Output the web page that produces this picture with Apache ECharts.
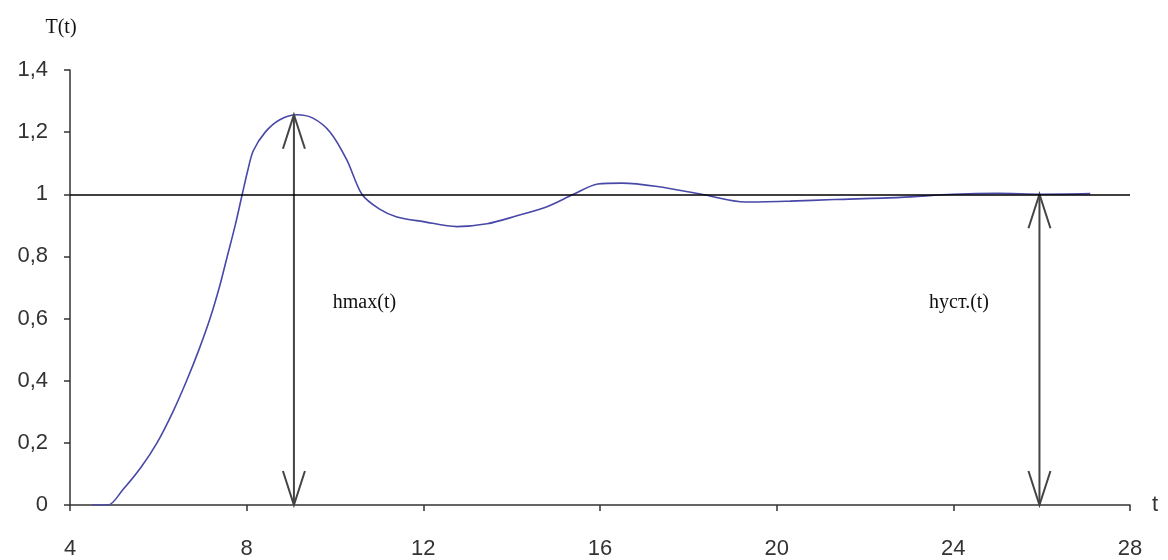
<!DOCTYPE html>
<html>
<head>
<meta charset="utf-8">
<script src="https://cdn.jsdelivr.net/npm/echarts@6/dist/echarts.min.js"></script>
<style>html,body{margin:0;padding:0;background:#fff}#c{width:1168px;height:560px}</style>
</head>
<body>
<div id="c"></div>
<script>
// Curve data T(t)
const tValues = [4.5, 4.86, 5.2, 5.6, 5.97, 6.33, 6.64, 6.92, 7.17, 7.38, 7.56, 7.74, 7.9, 8.03, 8.15, 8.42, 8.75, 9.14, 9.5, 9.89, 10.27, 10.61, 11.0, 11.4, 12.0, 12.76, 13.44, 14.1, 14.8, 15.4, 15.95, 16.5, 17.3, 18.3, 19.3, 20.3, 21.3, 22.8, 24.0, 25.0, 26.0, 27.1];
const hValues = [0, 0, 0.05, 0.12, 0.2, 0.3, 0.4, 0.5, 0.6, 0.7, 0.8, 0.9, 1.0, 1.08, 1.14, 1.2, 1.24, 1.256, 1.245, 1.2, 1.11, 1.0, 0.953, 0.927, 0.912, 0.896, 0.905, 0.93, 0.96, 1.0, 1.033, 1.036, 1.025, 1.0, 0.975, 0.978, 0.983, 0.99, 1.0, 1.003, 1.0, 1.002];
// Steady-state reference level
const steadyLevel = 1;
// Double-headed arrows
const arrowT = [9.07, 25.95];
const arrowTop = [1.256, 1.0];
// Annotation labels
const labelT = [9.95, 23.45];
const labelH = [0.65, 0.65];
const labelText = ['hmax(t)', 'hуст.(t)'];
// Axis
const xMin = 4, xMax = 28, xStep = 4;
const yMin = 0, yMax = 1.4, yStep = 0.2;

const chart = echarts.init(document.getElementById('c'));
const curve = tValues.map((t, i) => [t, hValues[i]]);
const arrows = arrowT.map((t, i) => [t, arrowTop[i]]);
const labels = labelT.map((t, i) => [t, labelH[i], labelText[i]]);

chart.setOption({
  animation: false,
  backgroundColor: '#ffffff',
  grid: { left: 70, right: 38, top: 70, bottom: 51 },
  xAxis: {
    type: 'value', min: xMin, max: xMax, interval: xStep,
    name: 't', nameLocation: 'end', nameGap: 22,
    nameTextStyle: { fontFamily: 'Liberation Sans', fontSize: 22, color: '#333', verticalAlign: 'middle' },
    axisLine: { lineStyle: { color: '#333', width: 1.5 } },
    axisTick: { show: true, length: 6, lineStyle: { color: '#333', width: 1.5 } },
    axisLabel: { margin: 33, fontFamily: 'Liberation Sans', fontSize: 22, color: '#333' },
    splitLine: { show: false }
  },
  yAxis: {
    type: 'value', min: yMin, max: yMax, interval: yStep,
    name: 'T(t)', nameLocation: 'end', nameGap: 32,
    nameTextStyle: { fontFamily: 'Liberation Serif', fontSize: 20, color: '#111', padding: [0, 18, 0, 0] },
    axisLine: { show: true, lineStyle: { color: '#333', width: 1.5 } },
    axisTick: { show: true, length: 6, lineStyle: { color: '#333', width: 1.5 } },
    axisLabel: {
      margin: 22, fontFamily: 'Liberation Sans', fontSize: 22, color: '#333',
      formatter: v => String(+v.toFixed(1)).replace('.', ',')
    },
    splitLine: { show: false }
  },
  series: [
    {
      type: 'line', data: curve, smooth: 0.3, showSymbol: false, z: 3,
      lineStyle: { color: '#4848a8', width: 1.6 },
      markLine: {
        silent: true, symbol: 'none', label: { show: false },
        lineStyle: { color: '#000', width: 1.5, type: 'solid' },
        data: [{ yAxis: steadyLevel }]
      }
    },
    {
      type: 'custom', data: arrows, z: 4,
      renderItem: (params, api) => {
        const top = api.coord([api.value(0), api.value(1)]);
        const bot = api.coord([api.value(0), 0]);
        const x = top[0];
        const st = { stroke: '#444', lineWidth: 2, fill: null };
        return {
          type: 'group',
          children: [
            { type: 'line', shape: { x1: x, y1: top[1], x2: x, y2: bot[1] }, style: st },
            { type: 'polyline', shape: { points: [[x - 11, top[1] + 34], [x, top[1]], [x + 11, top[1] + 34]] }, style: st },
            { type: 'polyline', shape: { points: [[x - 11, bot[1] - 34], [x, bot[1]], [x + 11, bot[1] - 34]] }, style: st }
          ]
        };
      }
    },
    {
      type: 'custom', data: labels, z: 5,
      renderItem: (params, api) => {
        const p = api.coord([api.value(0), api.value(1)]);
        return {
          type: 'text',
          style: {
            x: p[0], y: p[1], text: labelText[params.dataIndex],
            fontFamily: 'Liberation Serif', fontSize: 20, fill: '#111',
            align: 'left', verticalAlign: 'middle'
          }
        };
      }
    }
  ]
});
</script>
</body>
</html>
